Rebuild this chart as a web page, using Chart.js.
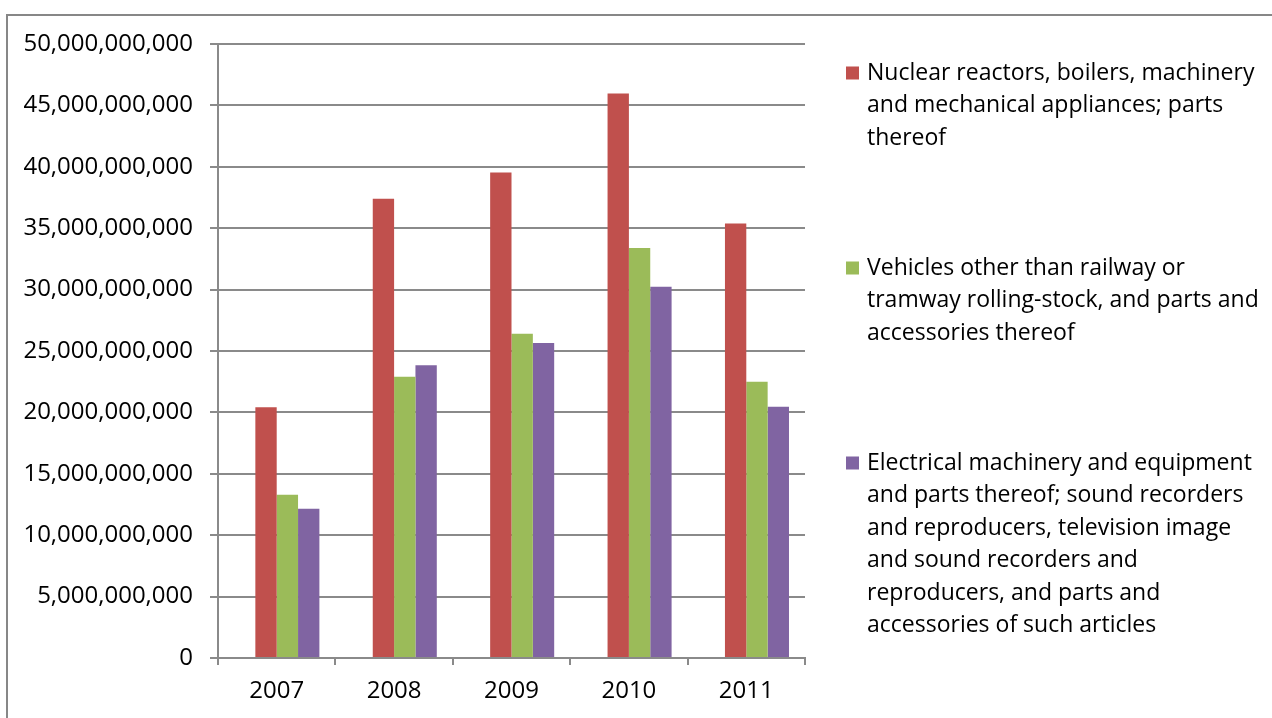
<!DOCTYPE html>
<html>
<head>
<meta charset="utf-8">
<script src="https://cdn.jsdelivr.net/npm/chart.js@4/dist/chart.umd.min.js"></script>
<style>
  html, body { margin: 0; padding: 0; background: #ffffff; }
  canvas { display: block; }
</style>
</head>
<body>
<canvas id="chart" width="1272" height="718"></canvas>
<script>
// Export value by product group, 2007-2011
const years = ['2007', '2008', '2009', '2010', '2011'];
const nuclearMachinery = [20.41e9, 37.39e9, 39.53e9, 45.96e9, 35.38e9];
const vehicles         = [13.30e9, 22.90e9, 26.40e9, 33.38e9, 22.50e9];
const electrical       = [12.16e9, 23.83e9, 25.65e9, 30.23e9, 20.46e9];

const yTickValues = [0, 5e9, 10e9, 15e9, 20e9, 25e9, 30e9, 35e9, 40e9, 45e9, 50e9];

const seriesNames = [
  'Nuclear reactors, boilers, machinery and mechanical appliances; parts thereof',
  'Vehicles other than railway or tramway rolling-stock, and parts and accessories thereof',
  'Electrical machinery and equipment and parts thereof; sound recorders and reproducers, television image and sound recorders and reproducers, and parts and accessories of such articles'
];
const legendLines = [
  ['Nuclear reactors, boilers, machinery', 'and mechanical appliances; parts', 'thereof'],
  ['Vehicles other than railway or', 'tramway rolling-stock, and parts and', 'accessories thereof'],
  ['Electrical machinery and equipment', 'and parts thereof; sound recorders', 'and reproducers, television image',
   'and sound recorders and', 'reproducers, and parts and', 'accessories of such articles']
];

const colors = ['#C0504D', '#9BBB59', '#8064A2'];
const gridColor = '#8a8a8a';
const FONT = '"Open Sans", "Liberation Sans", sans-serif';

// Outer frame of the chart object
const framePlugin = {
  id: 'frame',
  beforeDraw(chart) {
    const ctx = chart.ctx;
    ctx.save();
    ctx.fillStyle = '#ffffff';
    ctx.fillRect(0, 0, chart.width, chart.height);
    ctx.strokeStyle = '#878787';
    ctx.lineWidth = 2;
    ctx.strokeRect(7, 15, chart.width + 20, chart.height + 20);
    ctx.restore();
  }
};

// Legend on the right with wrapped entries
const sideLegendPlugin = {
  id: 'sideLegend',
  afterDraw(chart) {
    const ctx = chart.ctx;
    const boxX = 846, textX = 867, lineH = 32.5;
    const firstLineY = [73, 268, 463];
    ctx.save();
    ctx.font = '23px ' + FONT;
    ctx.textBaseline = 'middle';
    ctx.textAlign = 'left';
    legendLines.forEach((lines, i) => {
      const ds = chart.data.datasets[i + 1];
      ctx.fillStyle = ds.backgroundColor;
      ctx.fillRect(boxX, firstLineY[i] - 6.5, 13, 13);
      ctx.fillStyle = '#000000';
      lines.forEach((t, j) => ctx.fillText(t, textX, firstLineY[i] + j * lineH));
    });
    ctx.restore();
  }
};

new Chart(document.getElementById('chart'), {
  type: 'bar',
  data: {
    labels: years,
    datasets: [
      // empty leading series slot
      { label: '', data: [], backgroundColor: 'rgba(0,0,0,0)' },
      { label: seriesNames[0], data: nuclearMachinery, backgroundColor: colors[0] },
      { label: seriesNames[1], data: vehicles, backgroundColor: colors[1] },
      { label: seriesNames[2], data: electrical, backgroundColor: colors[2] }
    ]
  },
  options: {
    responsive: false,
    animation: false,
    devicePixelRatio: 1,
    layout: { padding: { left: 0, top: 44, right: 467, bottom: 0 } },
    datasets: { bar: { categoryPercentage: 4 / 5.5, barPercentage: 1, borderWidth: 0 } },
    plugins: { legend: { display: false }, tooltip: { enabled: false } },
    scales: {
      x: {
        offset: true,
        grid: { display: true, drawOnChartArea: false, drawTicks: true, tickLength: 7,
                offset: true, color: gridColor, lineWidth: 2 },
        border: { display: true, color: gridColor, width: 2 },
        ticks: { color: '#000000', font: { family: FONT, size: 24 }, padding: 12, maxRotation: 0 },
        afterFit(scale) { scale.height = 60; }
      },
      y: {
        min: 0, max: 50e9,
        afterBuildTicks(scale) { scale.ticks = yTickValues.map(v => ({ value: v })); },
        grid: { color: gridColor, lineWidth: 2, drawTicks: true, tickLength: 8 },
        border: { display: true, color: gridColor, width: 2 },
        ticks: {
          color: '#000000', font: { family: FONT, size: 24 }, padding: 17,
          callback: v => Number(v).toLocaleString('en-US')
        },
        afterFit(scale) { scale.width = 218; }
      }
    }
  },
  plugins: [framePlugin, sideLegendPlugin]
});
</script>
</body>
</html>
